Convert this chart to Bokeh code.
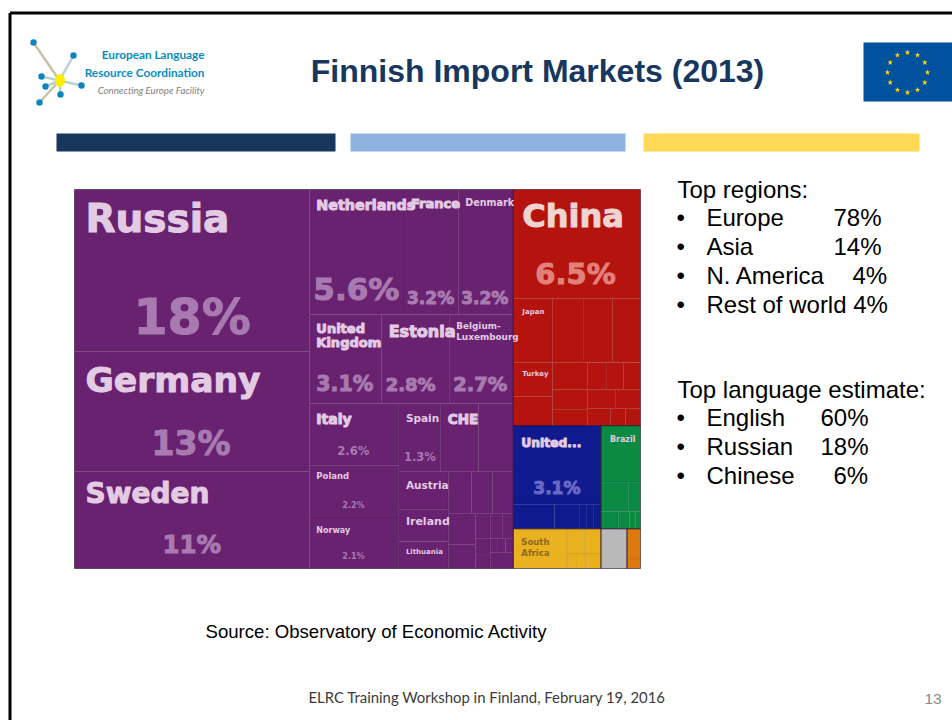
import math
from bokeh.plotting import figure
from bokeh.models import Range1d, ColumnDataSource
from bokeh.core.properties import value
from bokeh.embed import file_html
from bokeh.resources import INLINE

# ---- treemap data (share of imports, %) ----
russia_block = ["Russia", "Germany", "Sweden"]
russia_vals = [17.7, 13.1, 10.6]
row1_names = ["Netherlands", "France", "Denmark"]
row1_vals = [5.5, 3.15, 3.2]
row2_names = ["United Kingdom", "Estonia", "Belgium-Luxembourg"]
row2_vals = [3.0, 2.8, 2.66]
col3_names = ["Italy", "Poland", "Norway"]
col3_vals = [2.57, 2.2, 2.1]
row4_names = ["Spain", "CHE", ""]
row4_vals = [1.33, 1.2, 1.1]
col5_names = ["Austria", "Ireland", "Lithuania"]
col5_vals = [0.87, 0.73, 0.62]
eu_small_top = [0.45, 0.41, 0.41]
eu_small_a = [0.39, 0.30]
eu_small_b = [0.17, 0.11, 0.10]
eu_small_c = [0.14, 0.13]
eu_small_d = [0.05, 0.05, 0.05]
eu_small_e = [0.17]
china_val = 6.45
japan_row = [1.16, 0.92, 0.87, 0.84]
turkey_col = [0.62, 0.53]
asia_col2 = [0.44, 0.33, 0.26]
asia_r1 = [0.24, 0.21, 0.21]
asia_r2 = [0.25, 0.22]
asia_r3 = [0.18, 0.12, 0.06, 0.06]
usa_val = 3.2
na_row = [0.47, 0.29, 0.08, 0.08, 0.08]
brazil_val = 1.04
sa_upper = [0.38, 0.16]
sa_lower = [0.14, 0.09, 0.05, 0.04]
south_africa_val = 0.99
africa_upper = [0.21, 0.19]
africa_lower = [0.07, 0.06, 0.05, 0.05]
other_gray = [0.48]
other_orange = [0.19, 0.06]

# sidebar text
regions = ["Europe", "Asia", "N. America"]
region_shares = [78, 14, 4]
rest_label = "Rest of world 4%"
languages = ["English", "Russian", "Chinese"]
language_shares = [60, 18, 6]

PURPLE, RED, BLUE, GREEN, YELLOW, GRAY, ORANGE = (
    "#682270", "#b5140e", "#0e1a8e", "#0a8a42", "#e9b11f", "#b9b9b9", "#dd7a0e")


def L(names, vals, color):
    return [("leaf", n, v, color) for n, v in zip(names, vals)]


def A(vals, color):
    return [("leaf", "", v, color) for v in vals]


def H(*kids):
    return ("h", kids)


def V(*kids):
    return ("v", kids)


def total(node):
    return node[2] if node[0] == "leaf" else sum(total(k) for k in node[1])


cells = []


def layout(node, x0, y0, x1, y1):
    if node[0] == "leaf":
        cells.append(dict(name=node[1], x0=x0, y0=y0, x1=x1, y1=y1, color=node[3]))
        return
    s = total(node)
    pos = x0 if node[0] == "h" else y0
    for k in node[1]:
        f = total(k) / s
        if node[0] == "h":
            nxt = pos + (x1 - x0) * f
            layout(k, pos, y0, nxt, y1)
        else:
            nxt = pos + (y1 - y0) * f
            layout(k, x0, pos, x1, nxt)
        pos = nxt


europe = H(
    V(*L(russia_block, russia_vals, PURPLE)),
    V(
        H(*L(row1_names, row1_vals, PURPLE)),
        H(*L(row2_names, row2_vals, PURPLE)),
        H(
            V(*L(col3_names, col3_vals, PURPLE)),
            V(
                H(*L(row4_names, row4_vals, PURPLE)),
                H(
                    V(*L(col5_names, col5_vals, PURPLE)),
                    V(
                        H(*A(eu_small_top, PURPLE)),
                        H(
                            V(*A(eu_small_a, PURPLE)),
                            V(*A(eu_small_b, PURPLE)),
                            V(
                                H(*A(eu_small_c, PURPLE)),
                                H(*A(eu_small_d, PURPLE)),
                                H(*A(eu_small_e, PURPLE)),
                            ),
                        ),
                    ),
                ),
            ),
        ),
    ),
)
japan_names = ["Japan", "", "", ""]
asia = V(
    *L(["China"], [china_val], RED),
    H(*L(japan_names, japan_row, RED)),
    H(
        V(*L(["Turkey", ""], turkey_col, RED)),
        V(*A(asia_col2, RED)),
        V(H(*A(asia_r1, RED)), H(*A(asia_r2, RED)), H(*A(asia_r3, RED))),
    ),
)
middle = H(
    V(*L(["United..."], [usa_val], BLUE), H(*A(na_row, BLUE))),
    V(*L(["Brazil"], [brazil_val], GREEN), H(*A(sa_upper, GREEN)), H(*A(sa_lower, GREEN))),
)
bottom = H(
    H(
        *L(["South Africa"], [south_africa_val], YELLOW),
        V(H(*A(africa_upper, YELLOW)), H(*A(africa_lower, YELLOW))),
    ),
    *A(other_gray, GRAY),
    V(*A(other_orange, ORANGE)),
)
root = H(europe, V(asia, middle, bottom))
layout(root, 74, 189, 640, 568)
by_name = {c["name"]: c for c in cells if c["name"]}

# ---- page ----
p = figure(width=952, height=720, x_range=Range1d(0, 952), y_range=Range1d(720, 0),
           output_backend="svg", toolbar_location=None, min_border=0, outline_line_color=None)
p.axis.visible = False
p.grid.visible = False
p.background_fill_color = "white"

# slide frame
p.segment([9.5, 9.5], [12.5, 12.5], [9.5, 952], [720, 12.5], line_color="#000000", line_width=3)

# treemap
src = ColumnDataSource(dict(
    left=[c["x0"] for c in cells], right=[c["x1"] for c in cells],
    top=[c["y0"] for c in cells], bottom=[c["y1"] for c in cells],
    color=[c["color"] for c in cells],
))
p.quad(left="left", right="right", top="top", bottom="bottom", source=src,
       fill_color="color", line_color="#000000", line_alpha=0.07, line_width=1)
# darker edge round each continent block, from the cells' own extents
for col in (PURPLE, RED, BLUE, GREEN, YELLOW, GRAY, ORANGE):
    g = [c for c in cells if c["color"] == col]
    p.quad(left=[min(c["x0"] for c in g)], right=[max(c["x1"] for c in g)],
           top=[min(c["y0"] for c in g)], bottom=[max(c["y1"] for c in g)],
           fill_color=None, line_color="#2a1030", line_alpha=0.55, line_width=1)

LAB = "#e3cbe4"
PCT = "#a87ab0"
# name -> lines, dx, dy per line, size, pct text, pct dx, pct dy, pct size
labels = [
    ("Russia", ["Russia"], 11, [29], 39, "18%", 59, 128, 49),
    ("Germany", ["Germany"], 11, [28], 34.5, "13%", 77, 92, 33),
    ("Sweden", ["Sweden"], 11, [22], 28, "11%", 88, 73, 24.5),
    ("Netherlands", ["Netherlands"], 7, [15], 14.3, "5.6%", 4, 99, 31),
    ("France", ["France"], 7, [14], 13, "3.2%", 3, 108, 17),
    ("Denmark", ["Denmark"], 7, [13], 9.6, "3.2%", 3, 108, 17),
    ("United Kingdom", ["United", "Kingdom"], 7, [14, 28], 13, "3.1%", 7, 70, 20.5),
    ("Estonia", ["Estonia"], 7, [17], 16, "2.8%", 4, 70, 18),
    ("Belgium-Luxembourg", ["Belgium-", "Luxembourg"], 7, [12, 23], 8.9, "2.7%", 4, 70, 19.5),
    ("Italy", ["Italy"], 7, [15], 14, "2.6%", 28, 47, 11.5),
    ("Poland", ["Poland"], 7, [11], 8.5, "2.2%", 33, 40, 8),
    ("Norway", ["Norway"], 7, [12], 8, "2.1%", 33, 38, 8),
    ("Spain", ["Spain"], 7, [14], 10.5, "1.3%", 5, 53, 11.5),
    ("CHE", ["CHE"], 7, [15], 13.5, "", 0, 0, 0),
    ("Austria", ["Austria"], 7, [13], 10.5, "", 0, 0, 0),
    ("Ireland", ["Ireland"], 7, [12], 11, "", 0, 0, 0),
    ("Lithuania", ["Lithuania"], 7, [11], 7, "", 0, 0, 0),
    ("China", ["China"], 9, [26], 32, "6.5%", 22, 84, 29),
    ("Japan", ["Japan"], 9, [13], 7, "", 0, 0, 0),
    ("Turkey", ["Turkey"], 9, [11], 7, "", 0, 0, 0),
    ("United...", ["United..."], 8, [17], 12.3, "3.1%", 20, 62, 17),
    ("Brazil", ["Brazil"], 9, [14], 8, "", 0, 0, 0),
    ("South Africa", ["South", "Africa"], 8, [13, 24], 8.5, "", 0, 0, 0),
]
big = dict(x=[], y=[], t=[], s=[], c=[])
small = dict(x=[], y=[], t=[], s=[], c=[])


def add_label(x, y, t, size, color):
    d = big if size >= 12 else small
    d["x"].append(x); d["y"].append(y); d["t"].append(t)
    d["s"].append(f"{size}px"); d["c"].append(color)


for name, lines, dx, dys, size, pct, pdx, pdy, psize in labels:
    c = by_name[name]
    col = "#8a6a1e" if name == "South Africa" else LAB
    if name == "China":
        col = "#eed5d3"
    for ln, dy in zip(lines, dys):
        add_label(c["x0"] + dx, c["y0"] + dy, ln, size, col)
    if pct:
        pc = "#6a68c4" if name == "United..." else ("#e2807a" if name == "China" else PCT)
        add_label(c["x0"] + pdx, c["y0"] + pdy, pct, psize, pc)
p.text(x="x", y="y", text="t", source=ColumnDataSource(big),
       text_font=value("DejaVu Sans"), text_font_style="bold", text_font_size="s",
       text_color="c", text_outline_color="c", text_baseline="middle", text_align="left")
p.text(x="x", y="y", text="t", source=ColumnDataSource(small),
       text_font=value("DejaVu Sans"), text_font_style="bold", text_font_size="s",
       text_color="c", text_baseline="middle", text_align="left")


def put(x, y, s, size, color="#000000", font="Liberation Sans", style="normal", align="left"):
    p.text([x], [y], text=[s], text_font=value(font), text_font_size=f"{size}px",
           text_font_style=style, text_color=color, text_baseline="middle", text_align=align)


# title and bands
put(537, 70, "Finnish Import Markets (2013)", 32, "#17375e", style="bold", align="center")
p.quad(left=[56, 350, 643], right=[335, 625, 919], top=[133] * 3, bottom=[151] * 3,
       fill_color=["#17375e", "#8db3e2", "#ffd955"], line_color=None)

# logo
nodes_x = [33, 73, 41, 45, 81, 60, 39]
nodes_y = [42, 55, 76, 86, 85, 94, 102]
p.segment([59] * 7, [80] * 7, nodes_x, nodes_y,
          line_color=["#c9c2a8", "#b9d0d6", "#b9d0d6", "#b9d0d6", "#b9d0d6", "#b9d0d6", "#c9c2a8"],
          line_width=2.5)
p.circle(nodes_x, nodes_y, radius=3.2, fill_color="#0a86bd", line_color=None)
p.ellipse([59.5], [80], width=10, height=13, fill_color="#ffee00", line_color=None)
put(204, 53.5, "European Language", 11.8, "#0a8cbf", "Lato", "bold", "right")
put(204, 71.5, "Resource Coordination", 11.8, "#0a8cbf", "Lato", "bold", "right")
put(204, 89.5, "Connecting Europe Facility", 9.7, "#808080", "Lato", "italic", "right")

# EU flag
p.quad(left=[863], right=[952], top=[42], bottom=[101], fill_color="#00529f", line_color=None)
sx = [907 + 20 * math.sin(math.radians(30 * i)) for i in range(12)]
sy = [72 - 20 * math.cos(math.radians(30 * i)) for i in range(12)]
p.scatter(sx, sy, marker="star", size=6, fill_color="#ffd800", line_color=None)

# sidebar
FS = 24
put(677, 189, "Top regions:", FS)
for r, v, y, px in zip(regions, region_shares, [217, 246, 275], [833, 833, 852]):
    put(676, y, "•", FS)
    put(706, y, r, FS)
    put(px, y, f"{v}%", FS)
put(676, 304, "•", FS)
put(706, 304, rest_label, FS)
put(677, 389, "Top language estimate:", FS)
for l, v, y, px in zip(languages, language_shares, [417, 446, 475], [820, 820, 833]):
    put(676, y, "•", FS)
    put(706, y, l, FS)
    put(px, y, f"{v}%", FS)

put(205, 631, "Source: Observatory of Economic Activity", 18.6)
put(308, 696, "ELRC Training Workshop in Finland, February 19, 2016", 14.9, "#3a3a3a", "Lato")
put(924, 698, "13", 15.5, "#8a8a8a")

open("out.html", "w").write(file_html(p, INLINE))
